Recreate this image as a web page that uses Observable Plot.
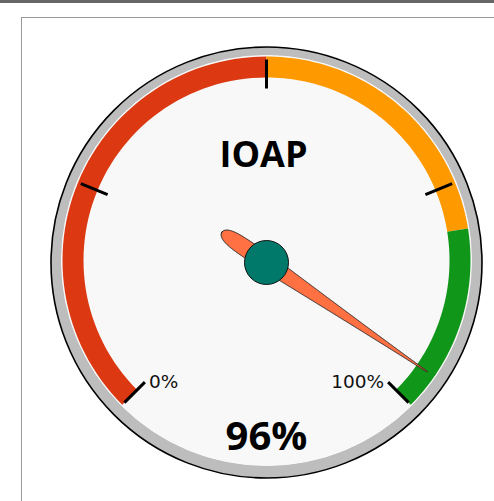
<!DOCTYPE html>
<html>
<head>
<meta charset="utf-8">
<script src="https://cdn.jsdelivr.net/npm/d3@7"></script>
<script src="https://cdn.jsdelivr.net/npm/@observablehq/plot@0.6"></script>
<style>
  html, body { margin: 0; padding: 0; background: #fff; overflow: hidden; width: 494px; height: 501px; }
  #topbar { position: absolute; left: 0; top: 0; width: 494px; height: 3px; background: #666; }
  #frame { position: absolute; left: 21px; top: 17px; width: 700px; height: 700px; border: 1px solid #999; box-sizing: border-box; }
  #chart { position: absolute; left: 0; top: 0; }
</style>
</head>
<body>
<div id="topbar"></div>
<div id="frame"></div>
<div id="chart"></div>
<script>
// ---- data ----
const gaugeTitle = "IOAP";
const gaugeValue = 96;
const valueLabel = "96%";
const bandFrom = [0, 50, 80];
const bandTo = [50, 80, 100];
const bandColors = ["#DC3912", "#FF9900", "#109618"];
const tickValues = [0, 25, 50, 75, 100];
const labelValues = [0, 100];
const labelTexts = ["0%", "100%"];

// ---- layout ----
const W = 494, H = 501;
const cx = 266, cy = 260;        // face centre
const hubY = 262;                // hub / outer ring centre
const startDeg = -135, sweep = 270;
const ang = v => (startDeg + sweep * v / 100) * Math.PI / 180;
const px = (v, r, y0 = cy) => ({x: cx + r * Math.sin(ang(v)), y: y0 - r * Math.cos(ang(v))});

// bands as polygons
const bandPolys = bandFrom.map((f, i) => {
  const t = bandTo[i], pts = [];
  const n = 60;
  for (let k = 0; k <= n; k++) pts.push(px(f + (t - f) * k / n, 204));
  for (let k = n; k >= 0; k--) pts.push(px(f + (t - f) * k / n, 183));
  return pts;
});

// ticks
const ticks = tickValues.map(v => {
  const a = px(v, 201), b = px(v, 172);
  return {x1: a.x, y1: a.y, x2: b.x, y2: b.y};
});
const labels = labelValues.map((v, i) => {
  const p = px(v, 172);
  return {x: p.x, y: p.y, text: labelTexts[i], left: v < 50};
});

// needle
function halfWidth(s) {
  if (s < 0) { const t = -s / 54; return 8.5 * Math.sqrt(Math.max(0, 1 - t ** 6)); }
  return 0.5 + 8 * Math.pow(1 - s / 194, 1.15);
}
const needle = (() => {
  const a = ang(gaugeValue), ux = Math.sin(a), uy = -Math.cos(a), nx = Math.cos(a), ny = Math.sin(a);
  const up = [], lo = [];
  for (let s = -54; s <= 194; s += 0.5) {
    const w = halfWidth(s);
    up.push({x: cx + ux * s + nx * w, y: hubY + uy * s + ny * w});
    lo.push({x: cx + ux * s - nx * w, y: hubY + uy * s - ny * w});
  }
  return up.concat(lo.reverse());
})();

const font = "'Open Sans', 'Noto Sans', sans-serif";

const chart = Plot.plot({
  width: W, height: H,
  marginTop: 0, marginRight: 0, marginBottom: 0, marginLeft: 0,
  x: {domain: [0, W], range: [0, W], axis: null},
  y: {domain: [0, H], range: [0, H], axis: null},
  style: {background: "transparent", fontFamily: font},
  marks: [
    Plot.dot([{x: cx, y: hubY}], {x: "x", y: "y", r: 215.5, fill: "#bdbdbd", stroke: "#000", strokeWidth: 1.6}),
    Plot.dot([{x: cx, y: cy}], {x: "x", y: "y", r: 205, fill: "#f8f8f8", stroke: "#fafafa", strokeWidth: 1}),
    ...bandPolys.map((pts, i) => Plot.line(pts, {x: "x", y: "y", fill: bandColors[i], stroke: "none", curve: "linear-closed"})),
    Plot.link(ticks, {x1: "x1", y1: "y1", x2: "x2", y2: "y2", stroke: "#000", strokeWidth: 3}),
    Plot.text(labels.filter(d => d.left), {x: "x", y: "y", text: "text", textAnchor: "start", dx: 4, fontSize: 18.5, fontFamily: "DejaVu Sans", fill: "#111"}),
    Plot.text(labels.filter(d => !d.left), {x: "x", y: "y", text: "text", textAnchor: "end", dx: -4, fontSize: 18.5, fontFamily: "DejaVu Sans", fill: "#111"}),
    Plot.text([gaugeTitle], {x: cx - 3, y: 155, text: d => d, fontSize: 36, fontWeight: "bold", fill: "#000"}),
    Plot.text([valueLabel], {x: cx, y: 437, text: d => d, fontSize: 40, fontWeight: "bold", fill: "#000"}),
    Plot.line(needle, {x: "x", y: "y", fill: "#FF7043", stroke: "#222", strokeWidth: 1, curve: "linear-closed"}),
    Plot.dot([{x: cx, y: hubY}], {x: "x", y: "y", r: 22, fill: "#00796B", stroke: "#111", strokeWidth: 1})
  ]
});
document.getElementById("chart").appendChild(chart);
</script>
</body>
</html>
